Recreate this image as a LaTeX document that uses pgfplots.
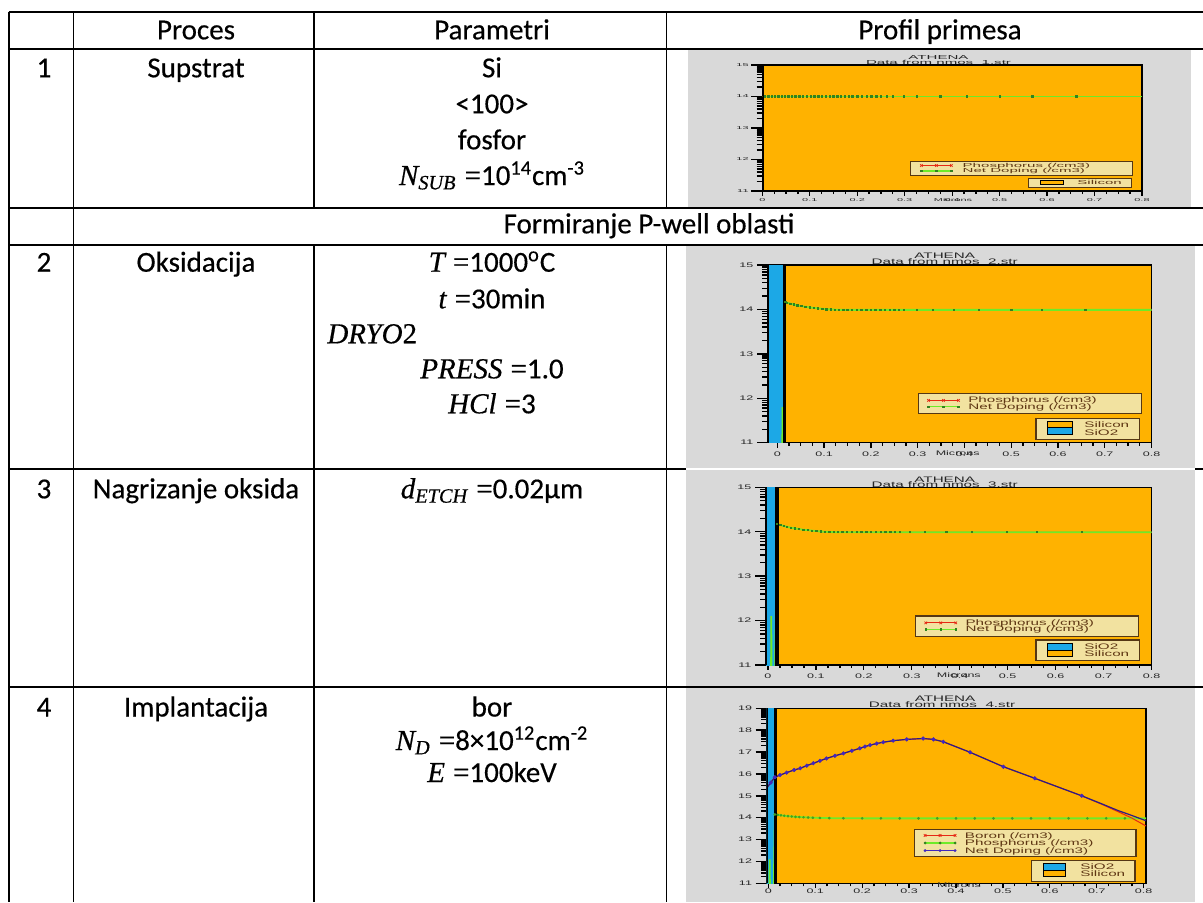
\documentclass[border=0pt]{standalone}
\usepackage{fontspec}
\setmainfont[FakeBold=0.4]{Carlito}
\newfontfamily\vf[FakeBold=0.5]{Liberation Serif}
\newfontfamily\chartfont[FakeStretch=1.9]{Liberation Sans}
\newfontfamily\chartfontB[FakeStretch=2.6]{Liberation Sans}
\newcommand\V[1]{{\vf\itshape #1}}
\newcommand\Eq{\hspace{0.28em}{\vf =}}
\usepackage{pgfplots}
\usepackage{pgfplotstable}
\pgfplotsset{compat=1.18}
\definecolor{siorange}{RGB}{255,178,0}
\definecolor{sioxide}{RGB}{28,168,230}
\definecolor{chartgray}{RGB}{217,217,217}
\definecolor{legfill}{RGB}{242,226,160}
\definecolor{legdraw}{RGB}{85,55,20}
\definecolor{legtext}{RGB}{95,55,20}
\definecolor{phos}{RGB}{230,40,20}
\definecolor{netg}{RGB}{110,235,40}
\definecolor{netgm}{RGB}{50,130,30}
\definecolor{netb}{RGB}{65,40,190}
\newcommand\tf{\fontsize{14.5}{18}\selectfont}

% chart 1: phosphorus = net doping (flat)
\pgfplotstableread{
x y
0 14
0.006 14
0.013 14
0.02 14
0.027 14
0.034 14
0.041 14
0.048 14
0.055 14
0.062 14
0.07 14
0.078 14
0.086 14
0.094 14
0.102 14
0.11 14
0.118 14
0.126 14
0.134 14
0.142 14
0.15 14
0.158 14
0.166 14
0.174 14
0.182 14
0.19 14
0.2 14
0.21 14
0.22 14
0.23 14
0.24 14
0.25 14
0.262 14
0.275 14
0.298 14
0.326 14
0.375 14
0.431 14
0.5 14
0.569 14
0.662 14
0.8 14
}\dA

% chart 2: net doping after oxidation
\pgfplotstableread{
x y
0.0105 10.5
0.011 11.8
0.0115 10.5
0.0145 10.5
0.017 14.17
0.021 14.15
0.028 14.13
0.035 14.11
0.043 14.09
0.051 14.075
0.06 14.06
0.069 14.045
0.078 14.035
0.087 14.025
0.096 14.015
0.105 14.005
0.114 14.0
0.123 13.995
0.132 13.99
0.141 13.99
0.15 13.99
0.16 13.99
0.17 13.99
0.18 13.99
0.19 13.99
0.2 13.99
0.21 13.99
0.22 13.99
0.23 13.99
0.24 13.99
0.25 13.99
0.26 13.99
0.27 13.99
0.298 13.99
0.333 13.99
0.377 13.99
0.431 13.99
0.5 13.99
0.566 13.99
0.659 13.99
0.8 13.99
}\dB

% chart 3: net doping after oxide etch
\pgfplotstableread{
x y
0.0065 10.5
0.007 12.1
0.0075 10.5
0.0145 10.5
0.019 14.17
0.026 14.15
0.033 14.13
0.04 14.11
0.048 14.09
0.056 14.075
0.065 14.06
0.074 14.045
0.083 14.035
0.092 14.025
0.101 14.015
0.11 14.005
0.119 14.0
0.128 13.995
0.137 13.99
0.146 13.99
0.155 13.99
0.165 13.99
0.175 13.99
0.185 13.99
0.195 13.99
0.205 13.99
0.215 13.99
0.225 13.99
0.235 13.99
0.245 13.99
0.255 13.99
0.265 13.99
0.275 13.99
0.296 13.99
0.327 13.99
0.372 13.99
0.426 13.99
0.498 13.99
0.561 13.99
0.655 13.99
0.8 13.99
}\dC

% chart 4: phosphorus
\pgfplotstableread{
x y
0.0025 10.5
0.003 12.1
0.0035 10.5
0.0115 10.5
0.014 14.15
0.02 14.13
0.027 14.11
0.034 14.09
0.042 14.07
0.05 14.055
0.058 14.04
0.066 14.03
0.075 14.02
0.085 14.01
0.095 14.0
0.11 13.99
0.13 13.98
0.16 13.975
0.2 13.97
0.24 13.97
0.28 13.97
0.32 13.97
0.36 13.97
0.4 13.97
0.44 13.97
0.48 13.97
0.52 13.97
0.56 13.97
0.6 13.97
0.64 13.97
0.68 13.97
0.72 13.97
0.76 13.97
0.805 13.97
}\dDp

% chart 4: boron
\pgfplotstableread{
x y
-0.004 15.34
0.005 15.6
0.014 15.85
0.025 15.95
0.039 16.06
0.055 16.18
0.068 16.26
0.082 16.38
0.096 16.49
0.11 16.6
0.124 16.71
0.142 16.83
0.16 16.94
0.178 17.06
0.195 17.17
0.206 17.25
0.217 17.32
0.231 17.39
0.245 17.45
0.266 17.52
0.295 17.58
0.33 17.62
0.352 17.58
0.373 17.47
0.43 16.99
0.501 16.33
0.568 15.8
0.668 15.0
0.71 14.62
0.745 14.28
0.775 13.98
0.805 13.62
}\dDb

% chart 4: net doping
\pgfplotstableread{
x y
-0.004 15.34
0.005 15.6
0.014 15.85
0.025 15.95
0.039 16.06
0.055 16.18
0.068 16.26
0.082 16.38
0.096 16.49
0.11 16.6
0.124 16.71
0.142 16.83
0.16 16.94
0.178 17.06
0.195 17.17
0.206 17.25
0.217 17.32
0.231 17.39
0.245 17.45
0.266 17.52
0.295 17.58
0.33 17.62
0.352 17.58
0.373 17.47
0.43 16.99
0.501 16.33
0.568 15.8
0.668 15.0
0.71 14.64
0.745 14.33
0.775 14.1
0.805 13.86
}\dDn

\pgfplotsset{
  athena/.style={
    scale only axis, anchor=north west,
    axis background/.style={fill=siorange},
    axis line style={black, line width=0.7pt},
    tick align=outside, tick pos=left,
    xtick={0,0.1,0.2,0.3,0.4,0.5,0.6,0.7,0.8},
    xticklabels={0,0.1,0.2,0.3,0.4,0.5,0.6,0.7,0.8},
    minor xtick={0.025,0.05,0.075,0.125,0.15,0.175,0.225,0.25,0.275,0.325,0.35,0.375,0.425,0.45,0.475,0.525,0.55,0.575,0.625,0.65,0.675,0.725,0.75,0.775},
    xtick style={black, line width=0.65pt, /pgfplots/major tick length=2.4pt, /pgfplots/minor tick length=1.5pt},
    ytick style={black, line width=0.7pt, /pgfplots/major tick length=5.5pt, /pgfplots/minor tick length=2.8pt},
    /pgf/number format/assume math mode=true,
    tick label style={text=black!85, inner sep=0.4pt},
    legend cell align=left,
    legend image code/.code={\draw[##1] plot coordinates {(0pt,0pt) (7.5pt,0pt) (15pt,0pt)};},
    legend style={fill=legfill, draw=legdraw, line width=0.6pt, text=legtext, anchor=south east, column sep=4.3pt, inner xsep=4.5pt},
  },
  minorA/.style={minor ytick={11.301,11.477,11.602,11.699,11.778,11.845,11.903,11.954,12.301,12.477,12.602,12.699,12.778,12.845,12.903,12.954,13.301,13.477,13.602,13.699,13.778,13.845,13.903,13.954,14.301,14.477,14.602,14.699,14.778,14.845,14.903,14.954}},
  minorB/.style={minor ytick={11.301,11.477,11.602,11.699,11.778,11.845,11.903,11.954,12.301,12.477,12.602,12.699,12.778,12.845,12.903,12.954,13.301,13.477,13.602,13.699,13.778,13.845,13.903,13.954,14.301,14.477,14.602,14.699,14.778,14.845,14.903,14.954,15.301,15.477,15.602,15.699,15.778,15.845,15.903,15.954,16.301,16.477,16.602,16.699,16.778,16.845,16.903,16.954,17.301,17.477,17.602,17.699,17.778,17.845,17.903,17.954,18.301,18.477,18.602,18.699,18.778,18.845,18.903,18.954}},
  bigleg/.style={legend style={font=\chartfont\fontsize{4}{4}\selectfont, inner ysep=1.8pt, row sep=0.05pt, nodes={inner sep=0pt, text height=2.9pt, text depth=0.3pt}}},
}

\begin{document}
\begin{tikzpicture}
\useasboundingbox (0,0) rectangle (601.5pt,-451pt);
\begin{scope}[x=0.5pt,y=-0.5pt]
  \fill[chartgray] (688,49) rectangle (1191,207.5);
  \fill[chartgray] (685.5,246) rectangle (1195,468);
  \fill[chartgray] (685.5,470) rectangle (1195,686.5);
  \fill[chartgray] (685.5,688) rectangle (1195,902);
  % chart titles
  \begin{scope}[every node/.style={anchor=base, inner sep=0pt, text=black!85}]
    \node[font=\chartfontB\fontsize{2.9}{2.9}\selectfont] at (938.5,59.1) {ATHENA};
    \node[font=\chartfontB\fontsize{2.9}{2.9}\selectfont] at (938.5,64.6) {Data from nmos\_1.str};
    \node[font=\chartfont\fontsize{4}{4}\selectfont] at (944.7,258.9) {ATHENA};
    \node[font=\chartfont\fontsize{4}{4}\selectfont] at (944.7,264.9) {Data from nmos\_2.str};
    \node[font=\chartfont\fontsize{4}{4}\selectfont] at (944.7,482.2) {ATHENA};
    \node[font=\chartfont\fontsize{4}{4}\selectfont] at (944.7,487.9) {Data from nmos\_3.str};
    \node[font=\chartfont\fontsize{4}{4}\selectfont] at (945,701.2) {ATHENA};
    \node[font=\chartfont\fontsize{4}{4}\selectfont] at (942,707.5) {Data from nmos\_4.str};
  \end{scope}
\end{scope}

% ---------------- chart 1 ----------------
\begin{axis}[athena, minorA, at={(381.15pt,-32.5pt)}, width=189.85pt, height=63pt,
  xmin=0, xmax=0.8, ymin=11, ymax=15, ytick={11,12,13,14,15},
  tick label style={font=\chartfontB\fontsize{2.1}{2.1}\selectfont},
  xticklabel style={yshift=1pt}, yticklabel style={xshift=-2pt},
  legend style={at={(0.977,0.119)}, font=\chartfontB\fontsize{2.9}{2.9}\selectfont, inner ysep=0.95pt, row sep=0.25pt, inner xsep=5pt, column sep=5pt, nodes={inner sep=0pt, text height=2.2pt, text depth=0.3pt}},
]
\addplot[phos, line width=0.4pt, forget plot] table {\dA};
\addplot[netg, line width=0.7pt, forget plot] table {\dA};
\addplot[only marks, mark=square*, mark size=0.35pt, color=netgm, forget plot, restrict x to domain=0.004:0.7] table {\dA};
\draw[black, line width=1.2pt] (rel axis cs:0,0) -- (rel axis cs:0,1);
\addlegendimage{phos, line width=0.4pt, mark=x, mark size=0.9pt}
\addlegendentry{\makebox[80pt][l]{Phosphorus (/cm3)}}
\addlegendimage{netg, line width=0.6pt, mark=square*, mark size=0.3pt, mark options={netgm}}
\addlegendentry{\makebox[80pt][l]{Net Doping (/cm3)}}
\end{axis}

% ---------------- chart 2 ----------------
\begin{axis}[athena, minorA, bigleg, at={(384pt,-132.5pt)}, width=191.75pt, height=88.85pt,
  xmin=-0.02, xmax=0.8, ymin=11, ymax=15, ytick={11,12,13,14,15},
  tick label style={font=\chartfont\fontsize{3.3}{3.3}\selectfont},
  xticklabel style={yshift=0.3pt}, yticklabel style={xshift=-2.5pt},
  legend style={at={(0.975,0.16)}},
]
\addplot[fill=sioxide, draw=none, forget plot] coordinates {(-0.03,10.8) (0.013,10.8) (0.013,15.2) (-0.03,15.2)} -- cycle;
\addplot[phos, line width=0.4pt, forget plot] table {\dB};
\addplot[netg, line width=0.9pt, forget plot] table {\dB};
\addplot[only marks, mark=square*, mark size=0.35pt, color=netgm, forget plot, restrict x to domain=0.016:0.7] table {\dB};
\addplot[black, line width=1.5pt, forget plot] coordinates {(0.0163,10.8) (0.0163,15.2)};
\draw[black, line width=1.2pt] (rel axis cs:0,0) -- (rel axis cs:0,1);
\addlegendimage{phos, line width=0.4pt, mark=x, mark size=0.9pt}
\addlegendentry{\makebox[82pt][l]{Phosphorus (/cm3)}}
\addlegendimage{netg, line width=0.6pt, mark=square*, mark size=0.3pt, mark options={netgm}}
\addlegendentry{\makebox[82pt][l]{Net Doping (/cm3)}}
\end{axis}

% ---------------- chart 3 ----------------
\begin{axis}[athena, minorA, bigleg, at={(383pt,-243.65pt)}, width=192.75pt, height=88.85pt,
  xmin=-0.004, xmax=0.8, ymin=11, ymax=15, ytick={11,12,13,14,15},
  tick label style={font=\chartfont\fontsize{3.3}{3.3}\selectfont},
  xticklabel style={yshift=0.6pt}, yticklabel style={xshift=-2.5pt},
  legend style={at={(0.968,0.159)}},
]
\addplot[fill=sioxide, draw=none, forget plot] coordinates {(-0.01,10.8) (0.014,10.8) (0.014,15.2) (-0.01,15.2)} -- cycle;
\addplot[phos, line width=0.4pt, forget plot] table {\dC};
\addplot[netg, line width=0.9pt, forget plot] table {\dC};
\addplot[only marks, mark=square*, mark size=0.35pt, color=netgm, forget plot, restrict x to domain=0.018:0.7] table {\dC};
\addplot[black, line width=2pt, forget plot] coordinates {(0.018,10.8) (0.018,15.2)};
\draw[black, line width=1.2pt] (rel axis cs:0,0) -- (rel axis cs:0,1);
\addlegendimage{phos, line width=0.4pt, mark=x, mark size=0.9pt}
\addlegendentry{\makebox[82pt][l]{Phosphorus (/cm3)}}
\addlegendimage{netg, line width=0.6pt, mark=square*, mark size=0.3pt, mark options={netgm}}
\addlegendentry{\makebox[82pt][l]{Net Doping (/cm3)}}
\end{axis}

% ---------------- chart 4 ----------------
\begin{axis}[athena, minorB, at={(383.35pt,-354.15pt)}, width=189.65pt, height=87.5pt,
  xmin=-0.0034, xmax=0.805, ymin=11, ymax=19, ytick={11,12,13,14,15,16,17,18,19},
  tick label style={font=\chartfont\fontsize{3.3}{3.3}\selectfont},
  xticklabel style={yshift=2pt}, yticklabel style={xshift=-2.5pt},
  legend style={at={(0.975,0.149)}, font=\chartfont\fontsize{4}{4}\selectfont, inner ysep=1.27pt, row sep=0.3pt, nodes={inner sep=0pt, text height=3.2pt, text depth=0.3pt}},
]
\addplot[fill=sioxide, draw=none, forget plot] coordinates {(-0.01,10.8) (0.012,10.8) (0.012,19.2) (-0.01,19.2)} -- cycle;
\addplot[netg, line width=0.9pt, forget plot] table {\dDp};
\addplot[only marks, mark=*, mark size=0.45pt, color=netgm!70!netg, forget plot, restrict x to domain=0.013:0.8] table {\dDp};
\addplot[phos, line width=0.5pt, forget plot] table {\dDb};
\addplot[only marks, mark=*, mark size=0.6pt, color=phos, forget plot, restrict x to domain=-0.01:0.68] table {\dDb};
\addplot[netb!70!black, line width=0.6pt, forget plot] table {\dDn};
\addplot[only marks, mark=*, mark size=0.8pt, color=netb, forget plot, restrict x to domain=-0.01:0.68] table {\dDn};
\addplot[black, line width=1.5pt, forget plot] coordinates {(0.0153,10.8) (0.0153,19.2)};
\draw[black, line width=1.2pt] (rel axis cs:0,0) -- (rel axis cs:0,1);
\addlegendimage{phos, line width=0.4pt, mark=x, mark size=0.9pt}
\addlegendentry{\makebox[81pt][l]{Boron (/cm3)}}
\addlegendimage{netg, line width=0.6pt, mark=*, mark size=0.35pt, mark options={netgm}}
\addlegendentry{\makebox[81pt][l]{Phosphorus (/cm3)}}
\addlegendimage{netb, line width=0.6pt, mark=*, mark size=0.35pt}
\addlegendentry{\makebox[81pt][l]{Net Doping (/cm3)}}
\end{axis}

\begin{scope}[x=0.5pt,y=-0.5pt]
  % material legends
  \begin{scope}[every node/.style={anchor=west, inner sep=0pt, text=legtext}]
    \filldraw[fill=legfill, draw=legdraw, line width=0.6pt] (1028.3,178.3) rectangle (1131.7,187.3);
    \filldraw[fill=siorange, draw=black, line width=0.5pt] (1040,180.7) rectangle (1063.3,184.3);
    \node[font=\chartfontB\fontsize{2.9}{2.9}\selectfont] at (1077,182.8) {Silicon};
    \filldraw[fill=legfill, draw=legdraw, line width=0.6pt] (1036,418.3) rectangle (1139.3,439.3);
    \filldraw[fill=siorange, draw=black, line width=0.5pt] (1047,421) rectangle (1072.3,427.7);
    \filldraw[fill=sioxide, draw=black, line width=0.5pt] (1047,427.7) rectangle (1072.3,434.3);
    \node[font=\chartfont\fontsize{4}{4}\selectfont] at (1084,425) {Silicon};
    \node[font=\chartfont\fontsize{4}{4}\selectfont] at (1084,432.2) {SiO2};
    \filldraw[fill=legfill, draw=legdraw, line width=0.6pt] (1036,640) rectangle (1139.3,660.7);
    \filldraw[fill=sioxide, draw=black, line width=0.5pt] (1047,643.3) rectangle (1072.3,650);
    \filldraw[fill=siorange, draw=black, line width=0.5pt] (1047,650) rectangle (1072.3,656.7);
    \node[font=\chartfont\fontsize{4}{4}\selectfont] at (1084,646.5) {SiO2};
    \node[font=\chartfont\fontsize{4}{4}\selectfont] at (1084,653.8) {Silicon};
    \filldraw[fill=legfill, draw=legdraw, line width=0.6pt] (1031.7,860.7) rectangle (1135,881.7);
    \filldraw[fill=sioxide, draw=black, line width=0.5pt] (1043.3,863.3) rectangle (1065.7,870);
    \filldraw[fill=siorange, draw=black, line width=0.5pt] (1043.3,870) rectangle (1065.7,876.7);
    \node[font=\chartfont\fontsize{4}{4}\selectfont] at (1080,866.7) {SiO2};
    \node[font=\chartfont\fontsize{4}{4}\selectfont] at (1080,874) {Silicon};
  \end{scope}
  % x axis labels (overlapping the 0.4 label as in the original screenshot)
  \begin{scope}[every node/.style={anchor=center, inner sep=0pt, text=black!85}]
    \node[font=\chartfontB\fontsize{2.1}{2.1}\selectfont] at (953,199.8) {Microns};
    \node[font=\chartfont\fontsize{3.3}{3.3}\selectfont] at (957.7,453.5) {Microns};
    \node[font=\chartfont\fontsize{3.3}{3.3}\selectfont] at (958.8,675.5) {Microns};
    \node[font=\chartfont\fontsize{3.3}{3.3}\selectfont] at (959,885) {Microns};
  \end{scope}
  % table rules
  \begin{scope}[line width=0.9pt, black]
    \draw (8.55,12) -- (1203,12);
    \draw (9,49) -- (1203,49);
    \draw (9,208) -- (1203,208);
    \draw (9,245) -- (1203,245);
    \draw (9,469) -- (685.5,469);
    \draw (1195,469) -- (1203,469);
    \draw (9,687) -- (1203,687);
    \draw (9,11.5) -- (9,902);
    \draw (73.5,11.5) -- (73.5,902);
    \draw (314,11.5) -- (314,208);
    \draw (314,245) -- (314,902);
    \draw (666.5,11.5) -- (666.5,208);
    \draw (666.5,245) -- (666.5,902);
  \end{scope}
  % table text
  \begin{scope}[every node/.style={anchor=base, inner sep=0pt, font=\tf}]
    \node at (196,39.3) {Proces};
    \node at (492,39.3) {Parametri};
    \node at (940,39.3) {Profil primesa};
    \node at (44,77.3) {1};
    \node at (196,77.3) {Supstrat};
    \node at (492,77.3) {Si};
    \node at (492,113.3) {<100>};
    \node at (492,149.3) {fosfor};
    \node at (492,185) {\V{N}\textsubscript{\V{SUB}}\Eq10\textsuperscript{14}cm\textsuperscript{-3}};
    \node at (649,233.3) {Formiranje P-well oblasti};
    \node at (44,271.7) {2};
    \node at (196,271.7) {Oksidacija};
    \node at (492,271.7) {\V{T}\Eq1000\textsuperscript{o}C};
    \node at (492,308.3) {\V{t}\Eq30min};
    \node[anchor=base west] at (327,343.3) {\V{DRYO}{\vf 2}};
    \node at (492,378.3) {\V{PRESS}\Eq1.0};
    \node at (492,413.3) {\V{HCl}\Eq3};
    \node at (44,498.3) {3};
    \node at (196,498.3) {Nagrizanje oksida};
    \node at (492,498.3) {\V{d}\textsubscript{\V{ETCH}}\Eq0.02µm};
    \node at (44,716.5) {4};
    \node at (196,716.5) {Implantacija};
    \node at (492,716.5) {bor};
    \node at (492,750) {\V{N}\textsubscript{\V{D}}\Eq8×10\textsuperscript{12}cm\textsuperscript{-2}};
    \node at (492,782) {\V{E}\Eq100keV};
  \end{scope}
\end{scope}
\end{tikzpicture}
\end{document}
